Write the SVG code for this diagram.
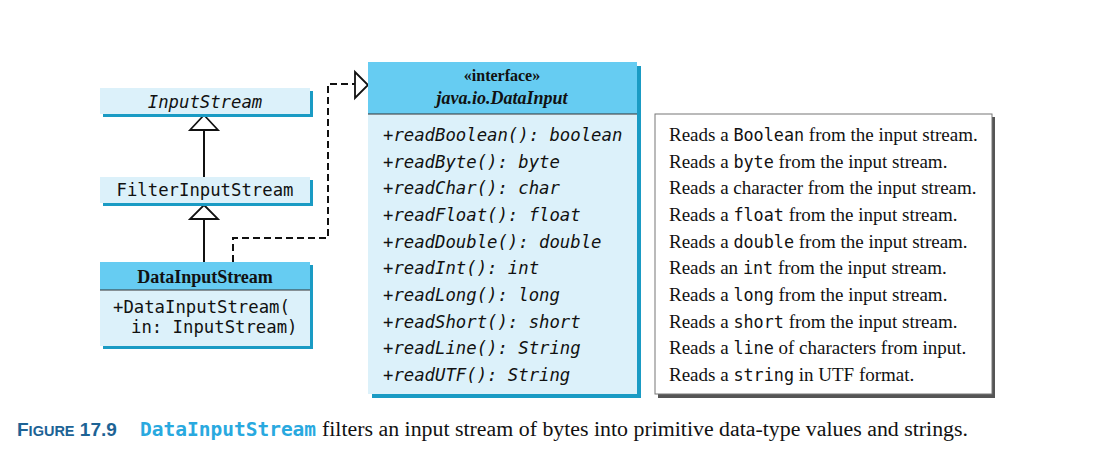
<svg xmlns="http://www.w3.org/2000/svg" width="1111" height="472" viewBox="0 0 1111 472">
<style>
.body{fill:#DCF1FA}
.head{fill:#66CCF2}
.shadow{fill:#1A9BC4}
.mono{font-family:"DejaVu Sans Mono","Liberation Mono",monospace;font-size:17.3px;fill:#111}
.it{font-style:italic}
.serif{font-family:"Liberation Serif","Times New Roman",serif;fill:#111}
.desc{font-family:"Liberation Serif","Times New Roman",serif;font-size:19px;fill:#111}
.dm{font-family:"DejaVu Sans Mono","Liberation Mono",monospace;font-size:16.8px}
.div{stroke:#333;stroke-width:1}
.conn{fill:none;stroke:#111;stroke-width:2}
.tri{fill:#fff;stroke:#111;stroke-width:1.8;stroke-linejoin:miter}
</style>
<rect width="1111" height="472" fill="#fff"/>

<g id="connectors">
  <line class="conn" x1="204" y1="130" x2="204" y2="177"/>
  <polygon class="tri" points="204,115 218,130 190,130"/>
  <line class="conn" x1="204" y1="219" x2="204" y2="262"/>
  <polygon class="tri" points="204,205 218,219 190,219"/>
  <path class="conn" d="M233,262 V238 H328 V84 H355" stroke-width="2.2" stroke-dasharray="7,4"/>
  <polygon class="tri" points="355,72 368,85 355,98"/>
</g>

<g id="InputStream">
  <rect class="shadow" x="103" y="91" width="210" height="26"/>
  <rect class="body" x="100" y="88" width="210" height="26"/>
  <text class="mono it" x="205" y="108" text-anchor="middle">InputStream</text>
</g>

<g id="FilterInputStream">
  <rect class="shadow" x="103" y="180" width="210" height="26"/>
  <rect class="body" x="100" y="177" width="210" height="26"/>
  <text class="mono" x="205" y="196" text-anchor="middle">FilterInputStream</text>
</g>

<g id="DataInputStream">
  <rect class="shadow" x="103" y="265" width="210" height="84"/>
  <rect class="head" x="100" y="262" width="210" height="28"/>
  <rect class="body" x="100" y="290" width="210" height="56"/>
  <line class="div" x1="100" y1="290" x2="310" y2="290"/>
  <text class="serif" x="205" y="283" text-anchor="middle" font-size="18" font-weight="bold">DataInputStream</text>
  <text class="mono" x="113" y="313">+DataInputStream(</text>
  <text class="mono" x="131" y="333">in: InputStream)</text>
</g>

<g id="DataInput">
  <rect class="shadow" x="372" y="66" width="269" height="332"/>
  <rect class="head" x="368" y="62" width="269" height="52"/>
  <rect class="body" x="368" y="114" width="269" height="280"/>
  <line class="div" x1="368" y1="114" x2="637" y2="114"/>
  <text class="serif" x="502" y="81" text-anchor="middle" font-size="16" font-weight="bold">«interface»</text>
  <text class="serif" x="502" y="104" text-anchor="middle" font-size="18" font-weight="bold" font-style="italic">java.io.DataInput</text>
  <g class="mono it">
    <text x="383" y="141">+readBoolean(): boolean</text>
    <text x="383" y="167.7">+readByte(): byte</text>
    <text x="383" y="194.3">+readChar(): char</text>
    <text x="383" y="221">+readFloat(): float</text>
    <text x="383" y="247.7">+readDouble(): double</text>
    <text x="383" y="274.3">+readInt(): int</text>
    <text x="383" y="301">+readLong(): long</text>
    <text x="383" y="327.7">+readShort(): short</text>
    <text x="383" y="354.3">+readLine(): String</text>
    <text x="383" y="381">+readUTF(): String</text>
  </g>
</g>

<g id="descriptions">
  <rect x="658" y="117" width="337" height="281" fill="#555"/>
  <rect x="655" y="114" width="337" height="280" fill="#fff" stroke="#777" stroke-width="1"/>
  <g class="desc">
    <text x="669" y="141">Reads a <tspan class="dm">Boolean</tspan> from the input stream.</text>
    <text x="669" y="167.7">Reads a <tspan class="dm">byte</tspan> from the input stream.</text>
    <text x="669" y="194.3">Reads a character from the input stream.</text>
    <text x="669" y="221">Reads a <tspan class="dm">float</tspan> from the input stream.</text>
    <text x="669" y="247.7">Reads a <tspan class="dm">double</tspan> from the input stream.</text>
    <text x="669" y="274.3">Reads an <tspan class="dm">int</tspan> from the input stream.</text>
    <text x="669" y="301">Reads a <tspan class="dm">long</tspan> from the input stream.</text>
    <text x="669" y="327.7">Reads a <tspan class="dm">short</tspan> from the input stream.</text>
    <text x="669" y="354.3">Reads a <tspan class="dm">line</tspan> of characters from input.</text>
    <text x="669" y="381">Reads a <tspan class="dm">string</tspan> in UTF format.</text>
  </g>
</g>

<g id="caption">
  <text x="17" y="436" font-family="'Liberation Sans',Arial,sans-serif" font-weight="bold" fill="#1D6395" font-size="19">F<tspan font-size="14.5">IGURE</tspan> 17.9</text>
  <text x="140" y="436" font-family="'DejaVu Sans Mono','Liberation Mono',monospace" font-weight="bold" font-size="19.5" fill="#29A9DF">DataInputStream</text>
  <text x="322" y="436" font-family="'Liberation Serif','Times New Roman',serif" font-size="20" fill="#111" textLength="646" lengthAdjust="spacingAndGlyphs">filters an input stream of bytes into primitive data-type values and strings.</text>
</g>
</svg>
